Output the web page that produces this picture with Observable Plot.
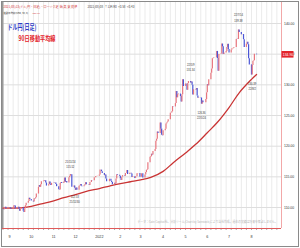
<!DOCTYPE html>
<html><head><meta charset="utf-8">
<script src="https://cdn.jsdelivr.net/npm/d3@7"></script>
<script src="https://cdn.jsdelivr.net/npm/@observablehq/plot@0.6"></script>
<style>
html,body{margin:0;padding:0;background:#fff;}
#chart svg{display:block;outline:1px solid #8a8a8a;outline-offset:-2px;}
</style></head><body><div id="chart"></div>
<script>
// Daily closes (USD/JPY), one array per month, weekdays only
const aug21 = [109.7,109.65,110.0,110.05,109.8,109.9,110.0];
const sep21 = [110.0,109.9,109.7,109.8,110.3,110.25,109.7,109.9,110.05,109.7,109.4,109.7,109.95,109.4,109.2,109.8,110.3,110.7,111.0,111.5,111.3,111.3];
const oct21 = [111.05,110.9,111.45,111.4,111.6,112.2,113.3,113.6,113.3,113.7,114.2,114.3,114.4,114.35,114.0,113.5,113.7,114.15,113.8,113.6,113.95];
const nov21 = [114.0,113.95,114.0,113.75,113.4,112.9,112.85,113.9,114.1,113.9,114.15,114.8,114.1,114.25,114.0,114.85,115.1,115.4,115.35,113.3,113.5,113.15];
const dec21 = [112.8,113.2,112.8,113.45,113.55,113.75,113.45,113.4,113.55,113.7,114.05,113.7,113.7,113.6,114.1,114.1,114.4,114.35,114.85,114.85,115.05,115.05,115.1];
const jan22 = [115.3,116.1,116.1,115.85,115.55,115.2,115.3,114.65,114.2,114.2,114.6,114.6,114.3,114.1,113.7,113.95,113.85,114.65,115.35,115.25,115.1];
const feb22 = [114.7,114.4,114.95,115.2,115.1,115.55,115.55,116.05,115.4,115.6,115.6,115.45,114.9,115.0,114.75,115.0,115.0,115.5,115.55,114.95];
const mar22 = [114.95,115.5,115.5,114.8,115.3,115.7,116.05,116.15,117.3,118.2,118.3,118.7,118.55,119.15,119.45,120.8,121.15,122.3,122.05,123.8,122.8,121.8,121.7];
const apr22 = [122.5,122.75,123.6,123.8,123.95,124.3,125.35,125.4,125.6,126.45,126.4,126.95,128.9,127.9,128.4,128.5,128.1,127.2,128.4,130.85,129.75];
const may22 = [130.15,130.15,129.1,130.2,130.55,130.3,130.45,129.95,128.35,129.2,129.15,129.4,128.2,127.8,127.9,127.85,126.85,127.35,127.1,127.1,127.6,128.7];
const jun22 = [130.0,129.85,130.85,131.9,132.6,134.25,134.35,134.4,134.4,135.45,134.3,132.2,134.95,135.05,136.65,136.2,134.95,135.2,135.45,136.1,136.6,135.75];
const jul22 = [135.2,135.7,135.9,135.9,136.0,136.1,137.4,137.45,137.4,138.95,138.55,138.15,138.2,138.2,137.35,136.1,136.65,136.95,136.55,134.25,133.25];
const aug22 = [131.6,133.15,133.85,133.95,135.0,134.9];
const firstDay = "2021-08-23", lastDay = "2022-08-08";

// 90-day moving average
const maDates = ["2021-08-23","2021-09-15","2021-10-01","2021-10-15","2021-11-01","2021-11-15","2021-12-01","2021-12-15","2022-01-03","2022-01-17","2022-02-01","2022-02-15","2022-03-01","2022-03-15","2022-04-01","2022-04-15","2022-05-02","2022-05-16","2022-06-01","2022-06-15","2022-07-01","2022-07-15","2022-08-01","2022-08-08"];
const maValues = [109.9,109.95,110.2,110.6,111.1,111.6,112.1,112.6,113.1,113.5,113.9,114.2,114.5,114.9,115.9,117.3,118.9,120.3,122.2,123.9,126.3,128.7,130.9,131.7];

// Annotations
const annDates = ["2022-07-14","2022-05-09","2022-05-24","2022-08-02","2021-11-24","2021-11-30"];
const annLabels = ["22/7/14","22/5/9","22/5/24","22/8/2","21/11/24","21/11/30"];
const annValues = [139.38,131.34,126.36,130.39,115.52,112.53];
const annAbove = [true,true,false,false,true,false];

// Axis ticks
const tickDates = ["2021-09-01","2021-10-01","2021-11-01","2021-12-01","2022-01-03","2022-02-01","2022-03-01","2022-04-01","2022-05-02","2022-06-01","2022-07-01","2022-08-01"];
const tickLabels = ["9","10","11","12","2022","2","3","4","5","6","7","8"];
const yTicks = [110,115,120,125,130,135,140];

// Texts
const header1 = "2021/08/23(ドル/円・日足)・ローソク足  始,高,安,終値";
const header1b = "2022/08/08  ↑134.90  +0.58  +0.43";
const header2 = "移動平均線(sma, 90, 0)";
const header2b = "131.60";
const titleText = "ドル円(日足)";
const subText = "90日移動平均線";
const footText = "データ：Gain Capital社。分析ツール(Chart by Sanstack)により当社作成。過去の実績は将来を保証しません。";

// ---- build tables ----
const parse = s => new Date(s + "T00:00:00Z");
const closes = [].concat(aug21,sep21,oct21,nov21,dec21,jan22,feb22,mar22,apr22,may22,jun22,jul22,aug22);
const days = d3.utcDays(parse(firstDay), d3.utcDay.offset(parse(lastDay),1)).filter(d => d.getUTCDay() % 6 !== 0);
const candles = closes.map((c,i) => ({date: days[i], open: i ? closes[i-1] : c, close: c}));
const ma = maDates.map((d,i) => ({date: parse(d), value: maValues[i]}));
const ann = annDates.map((d,i) => ({date: parse(d), value: annValues[i], label: annLabels[i], above: annAbove[i]}));
const last = candles[candles.length-1];

const x0 = new Date(Date.UTC(2021,7,22,8)), x1 = new Date(Date.UTC(2022,8,11,10));
const yDom = [106.58, 143.59];
const weeks = d3.utcMonday.range(x0, x1);
const tks = tickDates.map(parse);
const tkMap = new Map(tks.map((d,i) => [+d, tickLabels[i]]));
const up = "#e8767e", down = "#4b56d6";
const jp = "'Noto Sans CJK JP','Noto Sans',sans-serif";
const small = 2.7;

const chart = Plot.plot({
  width: 300, height: 248,
  marginLeft: 2, marginRight: 19, marginTop: 1, marginBottom: 20,
  x: {type: "utc", domain: [x0, x1]},
  y: {domain: yDom},
  style: {fontFamily: "'Liberation Sans',Arial,sans-serif", background: "#fff", overflow: "visible"},
  marks: [
    Plot.gridX(weeks, {stroke: "#ebebeb", strokeOpacity: 1}),
    Plot.gridY(yTicks, {stroke: "#dedede", strokeOpacity: 1}),
    Plot.axisY({anchor: "right", ticks: yTicks, tickFormat: d => d.toFixed(2), tickSize: 0, tickPadding: 2.5, fontSize: 3.4, fill: "#333"}),
    Plot.axisX({ticks: weeks, tickFormat: () => "", tickSize: 2, stroke: "#aaa"}),
    Plot.axisX({ticks: tks, tickFormat: d => tkMap.get(+d), tickSize: 0, tickPadding: 6.5, fontSize: 3.7, fill: "#333"}),
    Plot.ruleY([yDom[0]], {stroke: "#e05a5a", strokeWidth: 1}),
    Plot.ruleX([x1], {stroke: "#f2a8a8", strokeWidth: 1}),
    Plot.ruleX([x0], {stroke: "#9a9a9a", strokeWidth: 2}),
    Plot.text([footText], {frameAnchor: "bottom-right", dx: -4, dy: -6, textAnchor: "end", fill: "#b5b5b5", fontSize: 3.2, fontFamily: jp}),
    Plot.line(ma, {x: "date", y: "value", stroke: "#c93434", strokeWidth: 1.3, curve: "catmull-rom"}),
    Plot.ruleX(candles, {x: "date", y1: "open", y2: "close", stroke: d => d.close >= d.open ? up : down, strokeWidth: 1.2}),
    Plot.text(ann, {x: "date", y: "value", text: "label", fontSize: small, fill: "#333", filter: d => d.above, dy: -12}),
    Plot.text(ann, {x: "date", y: "value", text: d => d.value.toFixed(2), fontSize: small, fill: "#333", filter: d => d.above, dy: -6.5}),
    Plot.text(ann, {x: "date", y: "value", text: d => d.value.toFixed(2), fontSize: small, fill: "#333", filter: d => !d.above && d.label !== "22/8/2", dy: 5.5}),
    Plot.text(ann, {x: "date", y: "value", text: "label", fontSize: small, fill: "#333", filter: d => !d.above && d.label !== "22/8/2", dy: 10.5}),
    Plot.text(ann, {x: "date", y: "value", text: d => d.value.toFixed(2), fontSize: small, fill: "#333", filter: d => d.label === "22/8/2", dy: 1.5}),
    Plot.text(ann, {x: "date", y: "value", text: "label", fontSize: small, fill: "#333", filter: d => d.label === "22/8/2", dy: 6.5}),
    Plot.text([header1], {frameAnchor: "top-left", dx: 1, dy: 4, textAnchor: "start", fill: "#d23a3a", fontSize: 3, fontFamily: jp}),
    Plot.text([header1b], {frameAnchor: "top-left", dx: 85, dy: 4, textAnchor: "start", fill: "#444", fontSize: 3, fontFamily: jp}),
    Plot.text([header2], {frameAnchor: "top-left", dx: 1, dy: 11, textAnchor: "start", fill: "#444", fontSize: 2.4, fontFamily: jp}),
    Plot.text([header2b], {frameAnchor: "top-left", dx: 30, dy: 11, textAnchor: "start", fill: "#d23a3a", fontSize: 2.4}),
    Plot.text([titleText], {frameAnchor: "top-left", dx: 5, dy: 23, textAnchor: "start", fill: "#2f3cc6", fontSize: 7.5, fontWeight: "bold", fontFamily: jp}),
    Plot.text([subText], {frameAnchor: "top-left", dx: 16, dy: 35, textAnchor: "start", fill: "#e3242b", fontSize: 7, fontWeight: "bold", fontFamily: jp}),
    Plot.text([last], {y: "close", frameAnchor: "right", dx: 6.5, text: d => d.close.toFixed(2), textAnchor: "middle", fill: "#ffffff", fontSize: 3.4, ariaLabel: "last-price"})
  ]
});
document.getElementById("chart").appendChild(chart);

// fit label widths
const fit = {[titleText]: 29, [subText]: 37, [footText]: 140};
chart.querySelectorAll("text").forEach(t => {
  const s = t.textContent;
  if (fit[s]) { t.setAttribute("textLength", fit[s]); t.setAttribute("lengthAdjust", "spacingAndGlyphs"); }
});
// red box behind the last price label, placed with the chart's own scales
const yPix = chart.scale("y").apply(last.close);
const xRight = chart.scale("x").range[1];
const box = document.createElementNS("http://www.w3.org/2000/svg", "rect");
box.setAttribute("x", xRight + 0.5); box.setAttribute("y", yPix - 3.3);
box.setAttribute("width", 12); box.setAttribute("height", 6.6);
box.setAttribute("fill", "#e3242b");
const lastG = chart.querySelector('g[aria-label="last-price"]') || [...chart.querySelectorAll("g")].pop();
lastG.parentNode.insertBefore(box, lastG);
</script></body></html>
